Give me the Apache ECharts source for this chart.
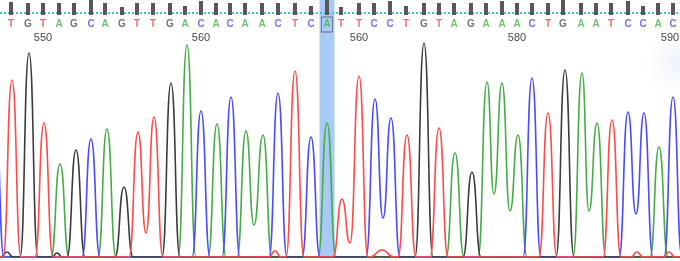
<!DOCTYPE html>
<html><head><meta charset="utf-8">
<script src="https://cdn.jsdelivr.net/npm/echarts@6/dist/echarts.min.js"></script>
<style>html,body{margin:0;padding:0;background:#fff}#c{width:680px;height:261px}</style>
</head><body><div id="c"></div>
<script>
// ---- data ----
const bases = ['T','G','T','A','G','C','A','G','T','T','G','A','C','A',
               'C','A','A','C','T','C','A','T','T','C','C','T','G','T','A',
               'G','A','A','A','C','T','G','A','A','T','C','C','A','C'];
const basePos = [11,28,43,59,74,91,105,122,137,153,170,185,201,216,
                 230,245,262,278,295,311,327,341,359,374,390,406,424,439,454,
                 471,486,502,517,532,548,563,581,596,611,628,643,658,673];
const quality = [52,48,48,48,48,60,48,32,48,48,48,36,56,48,
                 48,48,48,48,48,36,60,32,48,48,56,36,48,48,48,
                 48,48,56,48,48,48,60,48,48,48,56,36,48,48];
const tickBaseIdx = [2,12,22,32,42];
const tickLabels = ['550','560','560','580','590'];
const selectedBase = 20;

// trace peaks [scan, intensity, (optional width)] and valleys [scan, intensity]
const peaksA = [[60,93],[107,128],[187,212],[217,133],[246,126],[263,122],[327,134],
                [455,104],[487,175],[502,174],[518,122],[582,184],[597,134],[659,110]];
const valleysA = [[254,32],[494,63],[510,46],[589,46]];
const peaksC = [[-5,160],[91,118],[201,146],[231,160],[278,164],[311,120],[375,158],
                [391,139],[532,179],[628,145],[644,144],[673,160]];
const valleysC = [[383,39],[636,43]];
const peaksG = [[7,5,6],[29,204],[57,4,5],[76,107],[124,70],[171,174],[424,214],[472,85],[565,187]];
const valleysG = [];
const peaksT = [[12,177],[44,134],[138,125],[154,140],[275,6,6],[295,186],[342,58],[359,181],
                [382,7,12],[407,122],[439,129],[548,144],[612,137],[637,5,6],[669,5,6]];
const valleysT = [[146,24],[350,14]];

// ---- build ----
const colors = {A:'#45ad45', C:'#4a4aff', G:'#3c3c3c', T:'#ff4a4a'};
const letterColors = {A:'#4fae4f', C:'#5050ee', G:'#505050', T:'#f04848'};

function buildTrace(peaks, valleys){
  const pts = [];
  peaks.forEach(p => pts.push({x:p[0], y:p[1], w:p[2] || 9, peak:true}));
  valleys.forEach(v => pts.push({x:v[0], y:v[1], peak:false}));
  pts.sort((a,b) => a.x - b.x);
  const out = [[-30,0]];
  for (let i = 0; i < pts.length; i++){
    const p = pts[i];
    if (p.peak){
      const prev = pts[i-1], next = pts[i+1];
      if (!prev || prev.peak) out.push([p.x - p.w, 0]);
      out.push([p.x, p.y]);
      if (!next || next.peak) out.push([p.x + p.w, 0]);
    } else out.push([p.x, p.y]);
  }
  out.push([710,0]);
  return out;
}

const traces = [
  ['A', peaksA, valleysA], ['C', peaksC, valleysC],
  ['G', peaksG, valleysG], ['T', peaksT, valleysT]
];

const xAx = (gi, extra) => Object.assign({type:'value', gridIndex:gi, min:0, max:680, show:false}, extra||{});

const option = {
  animation:false,
  backgroundColor:'#ffffff',
  grid:[
    {left:0, right:0, top:0, bottom:4},        // traces
    {left:0, right:0, top:0, height:15},       // quality bars
    {left:0, right:0, top:17, height:15},      // base letters
    {left:0, right:0, top:31, height:14}       // position labels
  ],
  xAxis:[
    xAx(0, {show:true, axisLine:{show:true, onZero:false, lineStyle:{color:'#a8a8a8', width:2}},
            axisTick:{show:false}, axisLabel:{show:false}, splitLine:{show:false}}),
    xAx(1), xAx(2), xAx(3)
  ],
  yAxis:[
    {type:'value', gridIndex:0, min:0, max:257, show:false},
    {type:'value', gridIndex:1, min:0, max:60, show:false},
    {type:'value', gridIndex:2, min:0, max:1, show:false},
    {type:'value', gridIndex:3, min:0, max:1, show:false}
  ],
  graphic:[{
    type:'rect', z:-1, shape:{x:640, y:26, width:40, height:90},
    style:{fill:{type:'radial', x:1, y:0.4, r:1, colorStops:[
      {offset:0, color:'rgba(232,239,250,0.8)'},{offset:1, color:'rgba(245,248,253,0)'}]}}
  }],
  series:[
    {type:'line', xAxisIndex:0, yAxisIndex:0, data:[], z:1, silent:true,
     markArea:{silent:true, itemStyle:{color:'#a9c9f7'},
       data:[[{xAxis: basePos[selectedBase]-7.5, yAxis:0},{xAxis: basePos[selectedBase]+7.5, yAxis:257}]]}},
    ...traces.map(([b, pk, vl]) => ({
      type:'line', name:b, xAxisIndex:0, yAxisIndex:0, z:3,
      data: buildTrace(pk, vl), smooth:0.55, smoothMonotone:'x',
      showSymbol:false, symbol:'none',
      lineStyle:{color:colors[b], width:1.6}
    })),
    {type:'bar', xAxisIndex:1, yAxisIndex:1, z:5, barWidth:4,
     data: basePos.map((x,i)=>[x, quality[i]]),
     itemStyle:{color:'#585858'},
     markLine:{silent:true, symbol:'none', label:{show:false},
       lineStyle:{color:'#38c8c8', type:[2,2], width:2},
       data:[{yAxis:9}]}},
    {type:'scatter', xAxisIndex:2, yAxisIndex:2, z:6, symbol:'rect', symbolSize:[11,15],
     data:[[basePos[selectedBase], 0.5]],
     itemStyle:{color:'rgba(0,0,0,0)', borderColor:'#555', borderWidth:1}},
    {type:'scatter', xAxisIndex:2, yAxisIndex:2, z:7, symbolSize:0,
     data: bases.map((b,i)=>({value:[basePos[i], 0.5],
       label:{show:true, position:'inside', formatter:b, color:letterColors[b],
              fontSize:10, fontWeight:'bold', fontFamily:'Liberation Sans'}}))},
    {type:'scatter', xAxisIndex:3, yAxisIndex:3, z:7, symbolSize:0,
     data: tickBaseIdx.map((bi,i)=>({value:[Math.min(basePos[bi], 670), 0.5],
       label:{show:true, position:'inside', formatter:tickLabels[i], color:'#111',
              fontSize:11, fontFamily:'Liberation Sans'}}))}
  ]
};
const chart = echarts.init(document.getElementById('c'), null, {renderer:'canvas'});
chart.setOption(option);
</script></body></html>
